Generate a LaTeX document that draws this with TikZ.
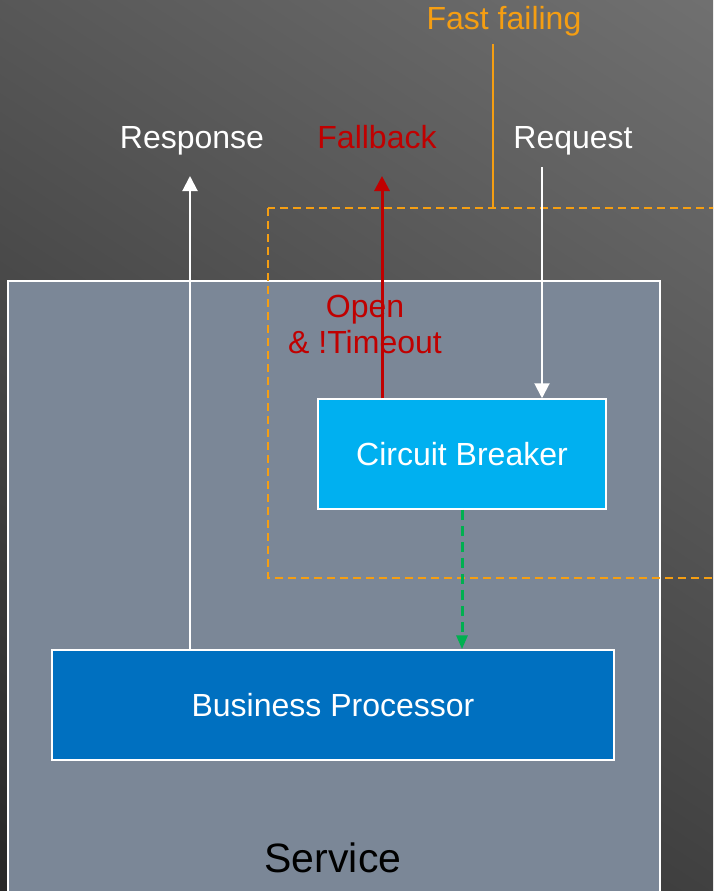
\documentclass[tikz,border=0pt]{standalone}
\usepackage{fontspec}
\setmainfont{Liberation Sans}
\usetikzlibrary{arrows.meta,positioning}

\definecolor{bgtop}{HTML}{707070}
\definecolor{bgbottom}{HTML}{282828}
\definecolor{servicegray}{HTML}{7B8797}
\definecolor{breakercyan}{HTML}{00B0F0}
\definecolor{processorblue}{HTML}{0070C0}
\definecolor{fallred}{HTML}{C00000}
\definecolor{zoneorange}{HTML}{F59E12}
\definecolor{callgreen}{HTML}{00B050}

\tikzset{
    lbl/.style={font=\fontsize{32}{36}\selectfont, inner sep=0pt},
    box/.style={lbl, draw=white, line width=1.5pt, text=white, minimum height=110pt},
    flow/.style={line width=2pt, -{Triangle[width=15pt,length=15pt]}},
}

\begin{document}
\begin{tikzpicture}[x=1pt, y=-1pt]
    \useasboundingbox (0,0) rectangle (713,891);
    \clip (0,0) rectangle (713,891);
    \shade[top color=bgtop, bottom color=bgbottom, shading angle=-33] (356.5,445.5) +(-568,-568) rectangle +(568,568);

    \node[draw=white, line width=1.5pt, fill=servicegray, minimum width=652pt, minimum height=640pt, anchor=north west] (service) at (7,280) {};
    \node[lbl, font=\fontsize{41}{48}\selectfont, anchor=base] (servicename) at (333,872) {Service};

    \node[box, fill=breakercyan, minimum width=288pt] (breaker) at (462,454) {Circuit Breaker};
    \node[box, fill=processorblue, minimum width=562pt] (processor) at (333,705) {Business Processor};

    \node[lbl, text=white, anchor=base] (response) at (192,148) {Response};
    \node[lbl, text=fallred, anchor=base] (fallback) at (377,148) {Fallback};
    \node[lbl, text=white, anchor=base] (request) at (573,148) {Request};
    \node[lbl, text=zoneorange, anchor=base] (failing) at (504,30) {Fast failing};
    \node[lbl, text=fallred, align=center, anchor=base] (opencond) at (365,353) {Open\\\& !Timeout};

    \coordinate (zone nw) at (268,208);
    \coordinate (zone se) at (740,578);
    \coordinate (fail foot) at (493,208);
    \coordinate (resp tip) at (190,176);
    \coordinate (fall tip) at (382,176);
    \coordinate (req start) at (542,167);

    \draw[zoneorange, line width=2pt, dash pattern=on 8pt off 5pt] (zone nw) rectangle (zone se);
    \draw[zoneorange, line width=2pt] (fail foot |- failing.south) ++(0,7) -- (fail foot);

    \draw[flow, white] (processor.north -| resp tip) -- (resp tip);
    \draw[flow, fallred, line width=3pt] (breaker.north -| fall tip) -- (fall tip);
    \draw[flow, white] (req start) -- (req start |- breaker.north);
    \draw[callgreen, line width=3pt, dash pattern=on 10pt off 6pt, -{Triangle[width=11pt,length=14pt]}] (breaker.south) -- (processor.north -| breaker.south);
\end{tikzpicture}
\end{document}
